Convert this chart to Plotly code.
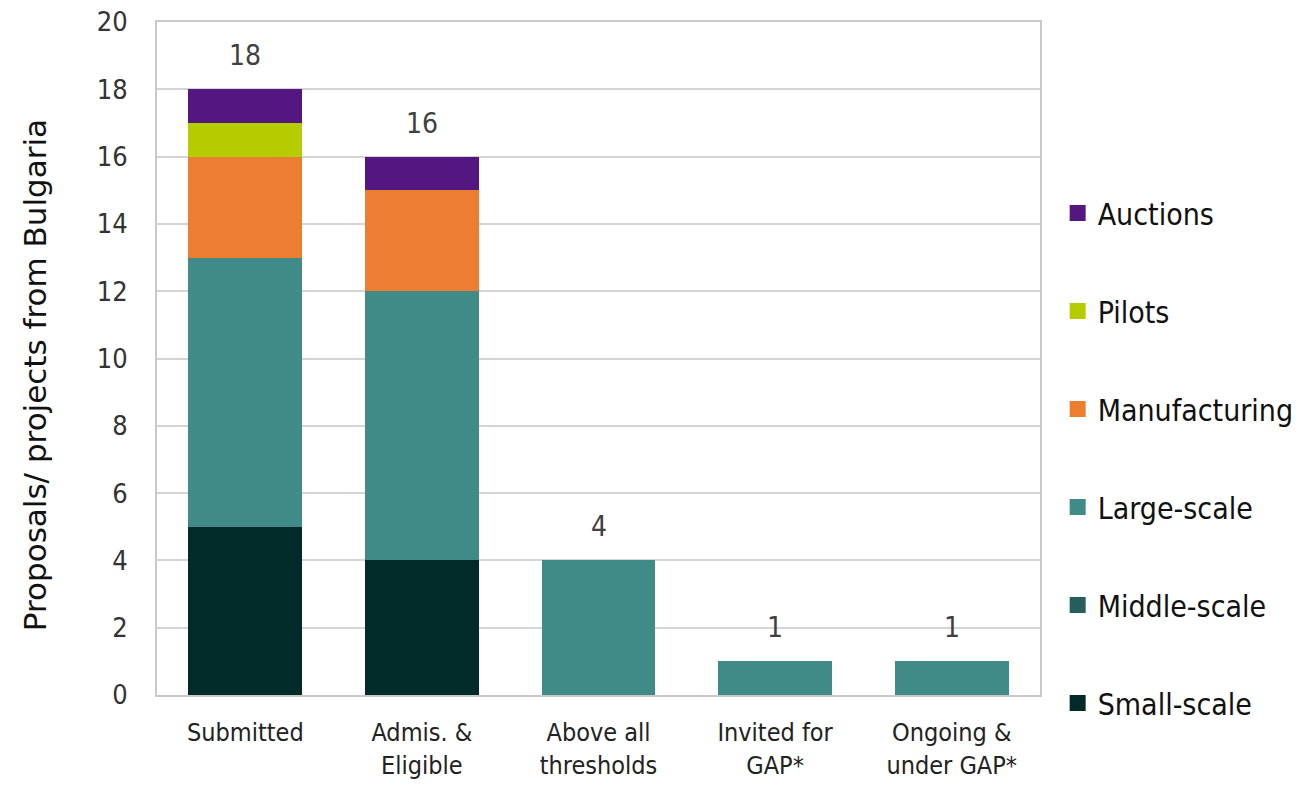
import plotly.graph_objects as go

categories = ["Submitted", "Admis. &<br>Eligible", "Above all<br>thresholds", "Invited for<br>GAP*", "Ongoing &<br>under GAP*"]
small_scale = [5, 4, 0, 0, 0]
middle_scale = [0, 0, 0, 0, 0]
large_scale = [8, 8, 4, 1, 1]
manufacturing = [3, 3, 0, 0, 0]
pilots = [1, 0, 0, 0, 0]
auctions = [1, 1, 0, 0, 0]
totals = [18, 16, 4, 1, 1]
y_ticks = list(range(0, 21, 2))
y_title = "Proposals/ projects from Bulgaria"

series = [
    ("Small-scale", small_scale, "#022a29"),
    ("Middle-scale", middle_scale, "#255e5b"),
    ("Large-scale", large_scale, "#408b88"),
    ("Manufacturing", manufacturing, "#ed7d31"),
    ("Pilots", pilots, "#b5cc00"),
    ("Auctions", auctions, "#541680"),
]

FONT = "DejaVu Sans Condensed, Liberation Sans Narrow, Roboto, sans-serif"
FONT_W = "DejaVu Sans, Roboto, sans-serif"

fig = go.Figure()
n = len(series)
for i, (name, vals, color) in enumerate(series):
    fig.add_trace(go.Bar(
        x=categories, y=vals, name=name, marker=dict(color=color, line=dict(width=0)),
        width=0.645, showlegend=False, hoverinfo="x+y+name",
    ))
    # legend entry (square marker)
    fig.add_trace(go.Scatter(
        x=[None], y=[None], mode="markers", name=name,
        marker=dict(symbol="square", size=20, color=color),
        legendgroup=name, legendrank=n - i, showlegend=True,
    ))

for cat, t in zip(categories, totals):
    fig.add_annotation(
        x=cat, y=t, text=str(t), showarrow=False, yanchor="bottom", yshift=15,
        font=dict(size=28, color="#404040", family=FONT),
    )

# y-axis title as a rotated annotation
fig.add_annotation(
    xref="paper", yref="paper", x=-0.138, y=0.4755, text=y_title, textangle=-90,
    showarrow=False, xanchor="center", yanchor="middle",
    font=dict(size=31, color="#111111", family=FONT_W),
)

fig.update_layout(
    barmode="stack",
    width=1309, height=786,
    margin=dict(l=157, r=269, t=22, b=91, autoexpand=False),
    paper_bgcolor="white", plot_bgcolor="white",
    font=dict(family=FONT, color="#1a1a1a"),
    bargap=0.355,
    legend=dict(
        traceorder="grouped", tracegroupgap=56,
        x=1.02, xanchor="left", y=0.352, yanchor="middle",
        font=dict(size=30, family=FONT, color="#111111"),
        itemsizing="trace", itemwidth=30,
    ),
    yaxis=dict(
        range=[0, 20], tickvals=y_ticks, showgrid=True, gridcolor="#d4d4d4", gridwidth=2,
        showline=True, linecolor="#c8c8c8", linewidth=2, mirror=True,
        tickfont=dict(size=27, color="#333333"), ticks="", ticklabelstandoff=22,
        zeroline=False,
    ),
    xaxis=dict(
        showline=True, linecolor="#c8c8c8", linewidth=2, mirror=True,
        tickfont=dict(size=25, color="#222222"), ticks="", ticklabelstandoff=14,
    ),
)

fig.write_html("out.html")
